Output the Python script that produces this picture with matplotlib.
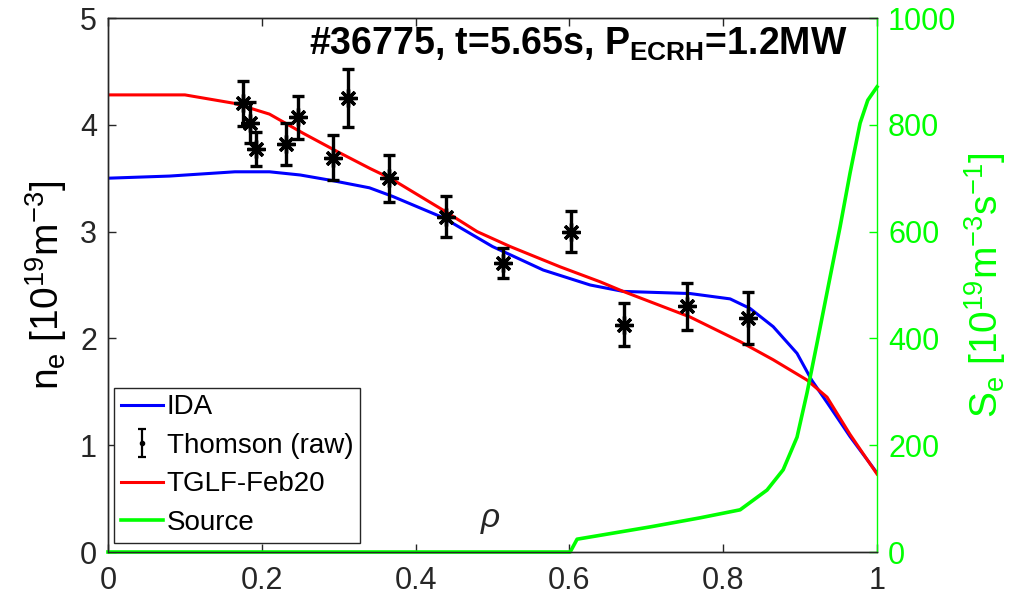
import numpy as np
import matplotlib
matplotlib.use("Agg")
import matplotlib.pyplot as plt

plt.rcParams['font.family'] = ['Liberation Sans', 'DejaVu Sans']
plt.rcParams['mathtext.fontset'] = 'custom'
plt.rcParams['mathtext.rm'] = 'Liberation Sans'
plt.rcParams['mathtext.it'] = 'Liberation Sans:italic'
plt.rcParams['mathtext.bf'] = 'Liberation Sans:bold'

# IDA density profile
rho_ida = [0.0, 0.08, 0.165, 0.21, 0.25, 0.29, 0.34, 0.37, 0.436, 0.5, 0.566,
           0.627, 0.67, 0.757, 0.809, 0.835, 0.865, 0.896, 0.915, 0.936, 0.965, 1.0]
ne_ida = [3.50, 3.52, 3.56, 3.56, 3.53, 3.48, 3.41, 3.33, 3.13, 2.86, 2.64,
          2.50, 2.44, 2.42, 2.37, 2.28, 2.11, 1.86, 1.61, 1.39, 1.08, 0.74]

# TGLF predicted profile
rho_tglf = [0.0, 0.1, 0.165, 0.21, 0.254, 0.298, 0.341, 0.367, 0.436, 0.48, 0.523,
            0.588, 0.64, 0.67, 0.757, 0.822, 0.865, 0.909, 0.935, 0.965, 1.0]
ne_tglf = [4.28, 4.28, 4.20, 4.10, 3.92, 3.75, 3.59, 3.50, 3.20, 3.00, 2.86,
           2.67, 2.53, 2.44, 2.20, 1.97, 1.80, 1.61, 1.45, 1.10, 0.73]

# Thomson scattering raw data
rho_ts = [0.176, 0.185, 0.192, 0.231, 0.247, 0.293, 0.312, 0.365, 0.440, 0.514,
          0.602, 0.671, 0.753, 0.832]
ne_ts = [4.20, 4.02, 3.77, 3.82, 4.07, 3.69, 4.25, 3.50, 3.14, 2.71,
         3.00, 2.13, 2.30, 2.19]
err_ts = [0.21, 0.19, 0.16, 0.20, 0.20, 0.21, 0.27, 0.22, 0.19, 0.14,
          0.19, 0.20, 0.22, 0.24]

# Particle source
rho_src = [0.0, 0.601, 0.610, 0.705, 0.770, 0.822, 0.857, 0.878, 0.896, 0.909,
           0.922, 0.939, 0.952, 0.965, 0.978, 0.988, 1.0]
s_src = [0, 0, 24, 47, 64, 79, 116, 154, 215, 298,
         391, 515, 609, 710, 803, 846, 871]

x_ticks = [0, 0.2, 0.4, 0.6, 0.8, 1]
x_ticklabels = ['0', '0.2', '0.4', '0.6', '0.8', '1']
y_ticks = [0, 1, 2, 3, 4, 5]
y2_ticks = [0, 200, 400, 600, 800, 1000]

axc = (0.15, 0.15, 0.15)
green = (0, 1, 0)

fig = plt.figure(figsize=(10.21, 6.04), dpi=100)
ax = fig.add_axes([108 / 1021, 52 / 604, 769 / 1021, 534 / 604])
ax2 = ax.twinx()

l_ida, = ax.plot(rho_ida, ne_ida, color=(0, 0, 1), lw=2.2, label='IDA')
ax.errorbar(rho_ts, ne_ts, yerr=err_ts, fmt='none', ecolor='k', elinewidth=2.4,
            capsize=4, capthick=2.4, zorder=3)
ax.plot(rho_ts, ne_ts, linestyle='none', marker=(8, 2, 0), markersize=13,
        markeredgewidth=2.4, color='k', zorder=4)
l_tglf, = ax.plot(rho_tglf, ne_tglf, color=(1, 0, 0), lw=2.2, label='TGLF-Feb20', zorder=2.5)
ts_handle = ax.errorbar([np.nan], [np.nan], yerr=[0.1], fmt='.', color='k',
                        markersize=6, elinewidth=1.6, capsize=3, capthick=1.6,
                        label='Thomson (raw)')
l_src, = ax2.plot(rho_src, s_src, color=green, lw=2.6, label='Source', clip_on=False)

ax.set_xlim(0, 1)
ax.set_ylim(0, 5)
ax2.set_ylim(0, 1000)
ax.set_xticks(x_ticks)
ax.set_xticklabels(x_ticklabels)
ax.set_yticks(y_ticks)
ax2.set_yticks(y2_ticks)

for a in (ax, ax2):
    for s in a.spines.values():
        s.set_color(axc)
        s.set_linewidth(1.0)
ax2.spines['right'].set_color(green)
ax.spines['right'].set_visible(False)

ax.tick_params(axis='both', direction='in', length=6, width=1.0, color=axc,
               labelsize=22, labelcolor=axc, top=True, pad=8)
ax.tick_params(axis='x', pad=10)
ax2.tick_params(axis='y', direction='in', length=6, width=1.0, color=green,
                labelsize=22, labelcolor=green, pad=8)

ax.set_ylabel(r'n$_\mathregular{e}$ [10$^\mathregular{19}$m$^\mathregular{-3}$]',
              fontsize=28, color='k', labelpad=8)
ax2.set_ylabel(r'S$_\mathregular{e}$ [10$^\mathregular{19}$m$^\mathregular{-3}$s$^\mathregular{-1}$]',
               fontsize=28, color=green, labelpad=4)

ax.text(0.497, 0.06, r'$\rho$', transform=ax.transAxes, fontsize=24,
        ha='center', va='center', color=axc, family=['DejaVu Serif'])

ax2.text(0.962, 0.931, r'#36775, t=5.65s, P$_\mathbf{ECRH}$=1.2MW',
         transform=ax.transAxes, fontsize=27, fontweight='bold', ha='right',
         va='baseline', color='k')

leg = ax2.legend([l_ida, ts_handle, l_tglf, l_src],
                 ['IDA', 'Thomson (raw)', 'TGLF-Feb20', 'Source'],
                 loc='lower left', bbox_to_anchor=(0.0078, 0.017), fontsize=20,
                 frameon=True, fancybox=False, edgecolor=axc, framealpha=1,
                 borderpad=0.25, labelspacing=0.45, handlelength=1.5,
                 handletextpad=0.15, borderaxespad=0)
leg.get_frame().set_linewidth(1.0)

fig.savefig('out.png', dpi=100)
